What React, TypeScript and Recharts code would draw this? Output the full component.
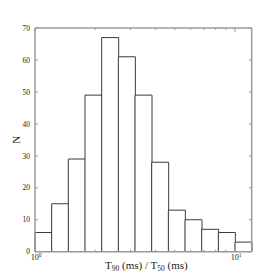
import React from 'react';
import { ComposedChart, Bar, XAxis, YAxis, Label } from 'recharts';

const counts = [6, 15, 29, 49, 67, 61, 49, 28, 13, 10, 7, 6, 3];
const binsPerDecade = 12;
const logTickValues = [1, 2, 3, 4, 5, 6, 7, 8, 9, 10];
const yTicks = [0, 10, 20, 30, 40, 50, 60, 70];
const yLabel = 'N';

const FONT = '"Liberation Serif", "DejaVu Serif", serif';
const AXIS = '#9a9a9a';
const TEXT = '#222';

const data = counts.map((n, i) => ({ bin: String(i), x: (i + 0.5) / binsPerDecade, n }));
const logTicks = logTickValues.map((v) => Math.log10(v));
const xMax = counts.length / binsPerDecade;

const isMajor = (v: number) => Math.abs(v - Math.round(v)) < 1e-9;

const BottomTick = (props: any) => {
  const { x, y, payload } = props;
  const v = payload.value;
  const major = isMajor(v);
  return (
    <g>
      <line x1={x} x2={x} y1={y} y2={y - (major ? 4 : 2)} stroke={AXIS} strokeWidth={1} />
      {major && (
        <text x={x + 1} y={y + 8.5} textAnchor="middle" fontSize={8} fill={TEXT} fontFamily={FONT}>
          10<tspan dy={-3} fontSize={5.5}>{Math.round(v)}</tspan>
        </text>
      )}
    </g>
  );
};

const TopTick = (props: any) => {
  const { x, y, payload } = props;
  const major = isMajor(payload.value);
  return <line x1={x} x2={x} y1={y} y2={y + (major ? 4 : 2)} stroke={AXIS} strokeWidth={1} />;
};

const LeftTick = (props: any) => {
  const { x, y, payload } = props;
  return (
    <g>
      <line x1={x + 5} x2={x + 8} y1={y} y2={y} stroke={AXIS} strokeWidth={1} />
      <text x={x} y={y} dy={2.7} textAnchor="end" fontSize={7.5} fill={TEXT} fontFamily={FONT}>
        {payload.value}
      </text>
    </g>
  );
};

const RightTick = (props: any) => {
  const { x, y } = props;
  return <line x1={x} x2={x - 3} y1={y} y2={y} stroke={AXIS} strokeWidth={1} />;
};

const XLabel = (props: any) => {
  const vb = props.viewBox || {};
  const cx = vb.x + vb.width / 2 + 3;
  const by = vb.y + 17.5;
  return (
    <text x={cx} y={by} textAnchor="middle" fontSize={11} fill={TEXT} fontFamily={FONT}>
      T<tspan dy={2} fontSize={7.5}>90</tspan>
      <tspan dy={-2}> (ms) / T</tspan>
      <tspan dy={2} fontSize={7.5}>50</tspan>
      <tspan dy={-2}> (ms)</tspan>
    </text>
  );
};

const YLabel = (props: any) => {
  const vb = props.viewBox || {};
  const cx = 16;
  const cy = vb.y + vb.height / 2;
  return (
    <text
      x={cx}
      y={cy}
      textAnchor="middle"
      fontSize={11}
      fill={TEXT}
      fontFamily={FONT}
      transform={`rotate(-90 ${cx} ${cy})`}
      dy={4}
    >
      {yLabel}
    </text>
  );
};

export default function App() {
  return (
    <div style={{ position: 'absolute', left: 0, top: 0, width: 280, height: 280, background: '#fff' }}>
      <ComposedChart
        width={280}
        height={280}
        data={data}
        margin={{ top: 28, right: 0, bottom: 0, left: 0 }}
        barCategoryGap={0}
        barGap={0}
      >
        <XAxis xAxisId="bins" dataKey="bin" type="category" hide height={0} />
        <XAxis
          xAxisId="log"
          dataKey="x"
          type="number"
          domain={[0, xMax]}
          ticks={logTicks}
          allowDataOverflow
          height={28.3}
          orientation="bottom"
          tickSize={0}
          tickMargin={0}
          tickLine={false}
          tick={<BottomTick />}
          interval={0}
          axisLine={{ stroke: AXIS, strokeWidth: 1.5 }}
        >
          <Label content={<XLabel />} />
        </XAxis>
        <XAxis
          xAxisId="top"
          dataKey="x"
          type="number"
          domain={[0, xMax]}
          ticks={logTicks}
          allowDataOverflow
          height={0.01}
          orientation="top"
          tickSize={0}
          tickMargin={0}
          tickLine={false}
          tick={<TopTick />}
          interval={0}
          axisLine={{ stroke: AXIS, strokeWidth: 1.5 }}
        />
        <YAxis
          yAxisId="left"
          type="number"
          domain={[0, 70]}
          ticks={yTicks}
          allowDataOverflow
          width={35}
          tickSize={0}
          tickMargin={5}
          tickLine={false}
          tick={<LeftTick />}
          interval={0}
          axisLine={{ stroke: AXIS, strokeWidth: 1.5 }}
        >
          <Label content={<YLabel />} />
        </YAxis>
        <YAxis
          yAxisId="right"
          dataKey="n"
          orientation="right"
          type="number"
          domain={[0, 70]}
          ticks={yTicks}
          allowDataOverflow
          width={28.3}
          tickSize={0}
          tickMargin={0}
          tickLine={false}
          tick={<RightTick />}
          interval={0}
          axisLine={{ stroke: AXIS, strokeWidth: 1.5 }}
        />
        <Bar
          xAxisId="bins"
          yAxisId="left"
          dataKey="n"
          fill="#fff"
          stroke="#3a3a3a"
          strokeWidth={1}
          isAnimationActive={false}
        />
      </ComposedChart>
    </div>
  );
}
